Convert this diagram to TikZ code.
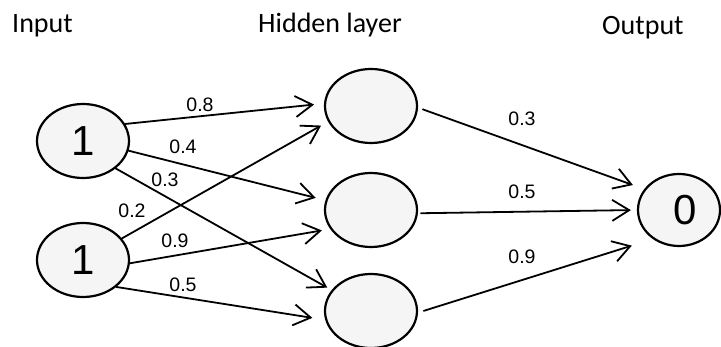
\documentclass[tikz,border=0pt]{standalone}
\usepackage{fontspec}
\setmainfont{Liberation Sans}
\newfontfamily\hdrfont{Carlito}
\usetikzlibrary{shapes.geometric,arrows.meta}
\begin{document}
\begin{tikzpicture}[x=1pt,y=-1pt,
  neuron/.style={ellipse, draw=black, line width=2.2pt, fill=black!4, inner sep=0pt,
    minimum width=92pt, minimum height=74pt, font=\fontsize{42}{44}\selectfont},
  conn/.style={line width=1.8pt, line cap=round, -{Straight Barb[length=17pt,width=21pt]}},
  wlabel/.style={inner sep=0pt, font=\fontsize{19.5}{21}\selectfont},
  header/.style={inner sep=0pt, anchor=base west, font=\hdrfont\fontsize{28}{30}\selectfont}]
\useasboundingbox (0,0) rectangle (721,347);

% headers
\node[header] (tin) at (12,33) {Input};
\node[header] (thid) at (258,33) {Hidden layer};
\node[header] (tout) at (602,35) {Output};

% neurons
\node[neuron] (i1) at (83,141) {1};
\node[neuron] (i2) at (83,260) {1};
\node[neuron] (h1) at (371,106) {};
\node[neuron] (h2) at (371,210) {};
\node[neuron] (h3) at (371,311) {};
\node[neuron, minimum width=82pt, minimum height=72pt] (o) at (679,210) {\hspace*{12pt}0};

% connectors
\draw[conn, shorten >=10pt] (i1.22) -- (h1.177);
\draw[conn, shorten >=10pt] (i1.-12) -- (h2.168);
\draw[conn, shorten >=5pt] (i1.-40) -- (h3.152);
\draw[conn, shorten >=8pt] (i2.29) -- (h1.200);
\draw[conn, shorten >=8.4pt] (i2.-4) -- (h2.205);
\draw[conn, shorten >=13pt] (i2.-39) -- (h3.191);
\draw[conn, shorten <=5pt, shorten >=12pt] (h1.-2) -- (o.149);
\draw[conn, shorten <=3pt, shorten >=6pt] (h2.-4) -- (o.180);
\draw[conn, shorten <=6pt, shorten >=22pt] (h3.-2) -- (o.228);

% weights
\node[wlabel] (w1) at (200,105) {0.8};
\node[wlabel] (w2) at (183,147) {0.4};
\node[wlabel] (w3) at (165,180) {0.3};
\node[wlabel] (w4) at (132,211) {0.2};
\node[wlabel] (w5) at (175,241) {0.9};
\node[wlabel] (w6) at (183,285) {0.5};
\node[wlabel] (w7) at (522,119) {0.3};
\node[wlabel] (w8) at (522,192) {0.5};
\node[wlabel] (w9) at (522,257) {0.9};
\end{tikzpicture}
\end{document}
